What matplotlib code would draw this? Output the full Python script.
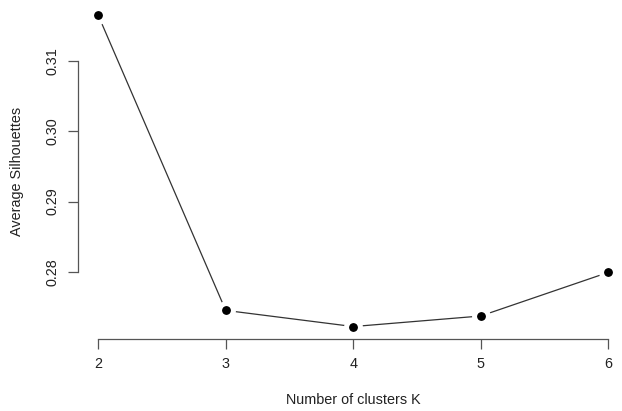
import matplotlib
matplotlib.use("Agg")
import matplotlib.pyplot as plt
import numpy as np

plt.rcParams['font.family'] = ['Liberation Sans', 'DejaVu Sans']

k_values = [2, 3, 4, 5, 6]
avg_silhouettes = [0.3165, 0.2745, 0.2722, 0.2737, 0.2799]
x_ticks = [2, 3, 4, 5, 6]
y_ticks = [0.28, 0.29, 0.30, 0.31]

W, H = 622, 411
fig = plt.figure(figsize=(W / 100, H / 100), dpi=100)
# plot region in pixels (R-style 4% padding), extends past right edge like the original crop
left, right, top, bottom = 77.9, 628.4, 3.0, 339.0
ax = fig.add_axes([left / W, 1 - bottom / H, (right - left) / W, (bottom - top) / H])

ax.plot(k_values, avg_silhouettes, color="#333333", lw=0.9, zorder=1)
ax.plot(k_values, avg_silhouettes, "o", color="black", ms=10,
        markeredgecolor="white", markeredgewidth=3.6, zorder=2)

lo, hi = min(avg_silhouettes), max(avg_silhouettes)
pad = (hi - lo) * 0.04
ax.set_ylim(lo - pad, hi + pad)
ax.set_xlim(1.84, 6.16)

for s in ["top", "right"]:
    ax.spines[s].set_visible(False)
ax.spines["left"].set_bounds(y_ticks[0], y_ticks[-1])
ax.spines["bottom"].set_bounds(x_ticks[0], x_ticks[-1])
for s in ["left", "bottom"]:
    ax.spines[s].set_color("#555555")
    ax.spines[s].set_linewidth(0.9)

ax.set_xticks(x_ticks)
ax.set_xticklabels([str(v) for v in x_ticks])
ax.set_yticks(y_ticks)
ax.set_yticklabels(["%.2f" % v for v in y_ticks], rotation=90, va="center")
ax.tick_params(direction="out", length=7, width=0.9, color="#555555",
               labelsize=10.4, labelcolor="#222222", pad=6)

ax.set_xlabel("Number of clusters K", fontsize=10.4, color="#222222", labelpad=16)
ax.set_ylabel("Average Silhouettes", fontsize=10.4, color="#222222", labelpad=16)

fig.savefig("out.png", dpi=100)
